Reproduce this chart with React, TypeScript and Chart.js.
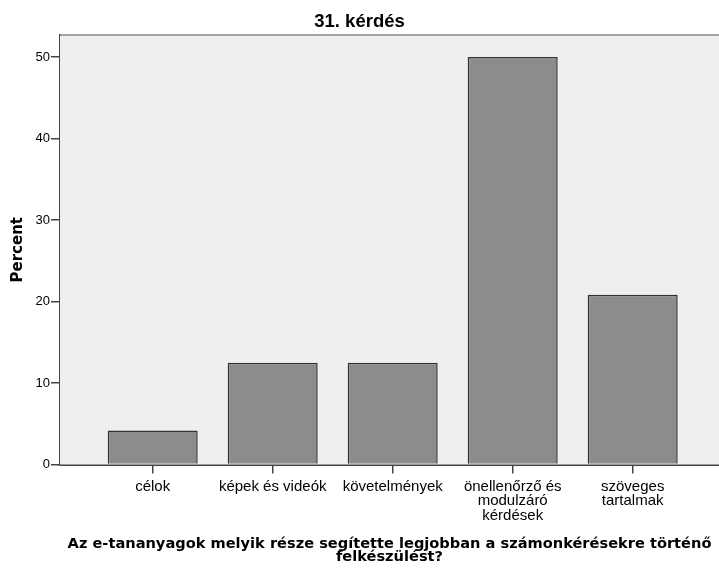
import React, { useEffect, useRef } from "react";
import { Chart, registerables } from "chart.js";

Chart.register(...registerables);

const categoryLabels: (string | string[])[] = [
  "célok",
  "képek és videók",
  "követelmények",
  ["önellenőrző és", "modulzáró", "kérdések"],
  ["szöveges", "tartalmak"],
];
const percentValues: number[] = [4.17, 12.5, 12.5, 50, 20.83];
const yTickValues: number[] = [0, 10, 20, 30, 40, 50];
const chartTitle = "31. kérdés";
const yAxisTitle = "Percent";
const xAxisTitle: string[] = [
  "Az e-tananyagok melyik része segítette legjobban a számonkérésekre történő",
  "felkészülést?",
];

const plotBackground = {
  id: "plotBackground",
  beforeDatasetsDraw(chart: any) {
    const { ctx, chartArea } = chart;
    ctx.save();
    ctx.fillStyle = "#efefef";
    ctx.fillRect(chartArea.left, chartArea.top, chartArea.right - chartArea.left, chartArea.bottom - chartArea.top);
    ctx.strokeStyle = "#8a8a8a";
    ctx.lineWidth = 1.5;
    ctx.beginPath();
    ctx.moveTo(chartArea.left, chartArea.top);
    ctx.lineTo(chartArea.right, chartArea.top);
    ctx.stroke();
    ctx.restore();
  },
};

export default function App() {
  const ref = useRef<HTMLCanvasElement | null>(null);

  useEffect(() => {
    if (!ref.current) return;
    const chart = new Chart(ref.current, {
      type: "bar",
      data: {
        datasets: [
          {
            data: percentValues.map((v, i) => ({ x: i + 1, y: v })),
            backgroundColor: "#8c8c8c",
            borderColor: "#333333",
            borderWidth: 1.5,
            categoryPercentage: 1,
            barPercentage: 0.75,
          },
        ],
      },
      options: {
        animation: false,
        responsive: false,
        devicePixelRatio: 1,
        layout: { padding: 0 },
        plugins: {
          legend: { display: false },
          tooltip: { enabled: false },
          title: {
            display: true,
            text: chartTitle,
            color: "#000",
            font: { family: "'Liberation Sans', Arial, sans-serif", size: 18.5, weight: "bold" },
            padding: { top: 10.5, bottom: 2.3 },
          },
        },
        scales: {
          x: {
            type: "linear",
            position: "bottom",
            offset: false,
            min: 0.2275,
            max: 5.7192,
            afterBuildTicks: (scale: any) => {
              scale.ticks = categoryLabels.map((_, i) => ({ value: i + 1 }));
            },
            afterFit: (scale: any) => {
              scale.height = 107.5;
            },
            ticks: {
              autoSkip: false,
              maxRotation: 0,
              minRotation: 0,
              color: "#000",
              padding: 6,
              font: { family: "'Liberation Sans', Arial, sans-serif", size: 15, lineHeight: 0.97 },
              callback: (value: any) => {
                const idx = Math.round(Number(value)) - 1;
                return categoryLabels[idx] ?? "";
              },
            },
            grid: {
              offset: false,
              drawOnChartArea: false,
              drawTicks: true,
              tickLength: 9,
              color: "#444",
              lineWidth: 1.5,
            },
            border: { display: true, color: "#444", width: 2 },
            title: {
              display: true,
              text: xAxisTitle,
              color: "#000",
              font: { family: "'DejaVu Sans', Verdana, sans-serif", size: 14.6, weight: "bold", lineHeight: 0.89 },
              padding: { top: 0, bottom: 8.5 },
            },
          },
          y: {
            type: "linear",
            min: 0,
            max: 52.7,
            afterBuildTicks: (scale: any) => {
              scale.ticks = yTickValues.map((v) => ({ value: v }));
            },
            afterFit: (scale: any) => {
              scale.width = 60;
            },
            ticks: {
              color: "#000",
              padding: 1,
              font: { family: "'Liberation Sans', Arial, sans-serif", size: 13 },
            },
            grid: {
              drawOnChartArea: false,
              drawTicks: true,
              tickLength: 9,
              color: "#444",
              lineWidth: 1.5,
            },
            border: { display: true, color: "#444", width: 2 },
            title: {
              display: true,
              text: yAxisTitle,
              color: "#000",
              font: { family: "'DejaVu Sans', Verdana, sans-serif", size: 15, weight: "bold" },
              padding: { top: 9, bottom: 0 },
            },
          },
        },
      },
      plugins: [plotBackground],
    } as any);
    return () => chart.destroy();
  }, []);

  return (
    <div style={{ position: "absolute", left: 0, top: 0, width: 719, height: 572 }}>
      <canvas ref={ref} width={719} height={572} style={{ display: "block", width: 719, height: 572 }} />
    </div>
  );
}
